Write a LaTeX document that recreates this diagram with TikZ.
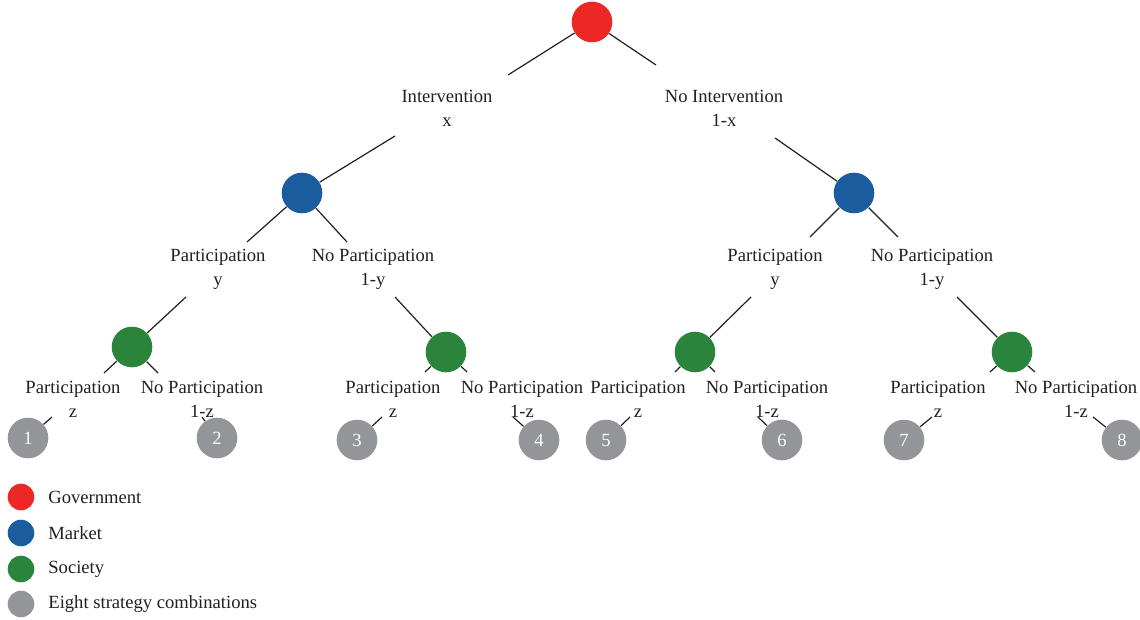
\documentclass[tikz,border=0pt]{standalone}
\usepackage{fontspec}
\setmainfont{Liberation Serif}
\definecolor{govred}{HTML}{ED2626}
\definecolor{mktblue}{HTML}{1B5C9E}
\definecolor{socgreen}{HTML}{2B843B}
\definecolor{leafgray}{HTML}{939598}
\definecolor{txt}{HTML}{231F20}
\begin{document}
\begin{tikzpicture}[x=0.5pt,y=-0.5pt,
  dot/.style={circle,inner sep=0pt,minimum size=20.3pt,draw=none},
  gov/.style={dot,fill=govred},
  mkt/.style={dot,fill=mktblue},
  soc/.style={dot,fill=socgreen},
  leaf/.style={dot,fill=leafgray,text=white,font=\fontsize{9.3}{11}\selectfont},
  lab/.style={align=center,inner sep=0pt,text=txt,font=\fontsize{9.3}{12}\selectfont},
  legdot/.style={circle,inner sep=0pt,minimum size=13.3pt,draw=none},
  legtxt/.style={anchor=west,inner sep=0pt,text=txt,font=\fontsize{9.3}{11}\selectfont},
  br/.style={draw=txt,line width=0.6pt}]
\useasboundingbox (0,0) rectangle (1140,620);
% decision nodes
\node[gov] (R) at (592,22) {};
\node[mkt] (B1) at (302,193) {};
\node[mkt] (B2) at (854,193) {};
\node[soc] (G1) at (132,347) {};
\node[soc] (G2) at (446,352) {};
\node[soc] (G3) at (695,352) {};
\node[soc] (G4) at (1012,352) {};
% leaves
\node[leaf] (L1) at (28,438) {1};
\node[leaf] (L2) at (217,438) {2};
\node[leaf] (L3) at (357,440) {3};
\node[leaf] (L4) at (539,440) {4};
\node[leaf] (L5) at (606,440) {5};
\node[leaf] (L6) at (782,440) {6};
\node[leaf] (L7) at (904,440) {7};
\node[leaf] (L8) at (1122,440) {8};
% labels
\node[lab] (T1a) at (447,108) {Intervention\\x};
\node[lab] (T1b) at (724,108) {No Intervention\\1-x};
\node[lab] (T2a) at (218,269) {Participation\\y};
\node[lab] (T2b) at (373,269) {No Participation\\1-y};
\node[lab] (T2c) at (775,269) {Participation\\y};
\node[lab] (T2d) at (932,269) {No Participation\\1-y};
\node[lab] (T3a) at (73,399) {Participation\\z};
\node[lab] (T3b) at (202,399) {No Participation\\1-z};
\node[lab] (T3c) at (393,399) {Participation\\z};
\node[lab] (T3d) at (522,399) {No Participation\\1-z};
\node[lab] (T3e) at (638,399) {Participation\\z};
\node[lab] (T3f) at (767,399) {No Participation\\1-z};
\node[lab] (T3g) at (938,399) {Participation\\z};
\node[lab] (T3h) at (1076,399) {No Participation\\1-z};
% connector end points
\coordinate (r1) at (508,75);
\coordinate (r2) at (656,65);
\coordinate (a1) at (395,136);
\coordinate (a2) at (775,138);
\coordinate (b1) at (247,242);
\coordinate (b2) at (347,242);
\coordinate (b3) at (810,237);
\coordinate (b4) at (898,237);
\coordinate (c1) at (186,297);
\coordinate (c2) at (395,297);
\coordinate (c3) at (751,297);
\coordinate (c4) at (957,297);
\coordinate (d1) at (104,373);
\coordinate (d2) at (158,373);
\coordinate (d3) at (425,372);
\coordinate (d4) at (467,372);
\coordinate (d5) at (675,372);
\coordinate (d6) at (715,372);
\coordinate (d7) at (990,372);
\coordinate (d8) at (1035,372);
\coordinate (e1) at (52,417);
\coordinate (e2) at (202,417);
\coordinate (e3) at (382,417);
\coordinate (e4) at (513,417);
\coordinate (e5) at (630,417);
\coordinate (e6) at (758,417);
\coordinate (e7) at (932,417);
\coordinate (e8) at (1093,417);
% connectors
\draw[br] (R) -- (r1);
\draw[br] (R) -- (r2);
\draw[br] (a1) -- (B1);
\draw[br] (a2) -- (B2);
\draw[br] (B1) -- (b1);
\draw[br] (B1) -- (b2);
\draw[br] (B2) -- (b3);
\draw[br] (B2) -- (b4);
\draw[br] (c1) -- (G1);
\draw[br] (c2) -- (G2);
\draw[br] (c3) -- (G3);
\draw[br] (c4) -- (G4);
\draw[br] (G1) -- (d1);
\draw[br] (G1) -- (d2);
\draw[br] (G2) -- (d3);
\draw[br] (G2) -- (d4);
\draw[br] (G3) -- (d5);
\draw[br] (G3) -- (d6);
\draw[br] (G4) -- (d7);
\draw[br] (G4) -- (d8);
\draw[br] (e1) -- (L1);
\draw[br] (e2) -- (L2);
\draw[br] (e3) -- (L3);
\draw[br] (e4) -- (L4);
\draw[br] (e5) -- (L5);
\draw[br] (e6) -- (L6);
\draw[br] (e7) -- (L7);
\draw[br] (e8) -- (L8);
% legend
\node[legdot,fill=govred] (K1) at (21,497) {};
\node[legdot,fill=mktblue] (K2) at (21,533) {};
\node[legdot,fill=socgreen] (K3) at (21,569) {};
\node[legdot,fill=leafgray] (K4) at (21,604) {};
\node[legtxt] (K1t) at (48,497) {Government};
\node[legtxt] (K2t) at (48,533) {Market};
\node[legtxt] (K3t) at (48,569) {Society};
\node[legtxt] (K4t) at (48,604) {Eight strategy combinations};
\end{tikzpicture}
\end{document}
